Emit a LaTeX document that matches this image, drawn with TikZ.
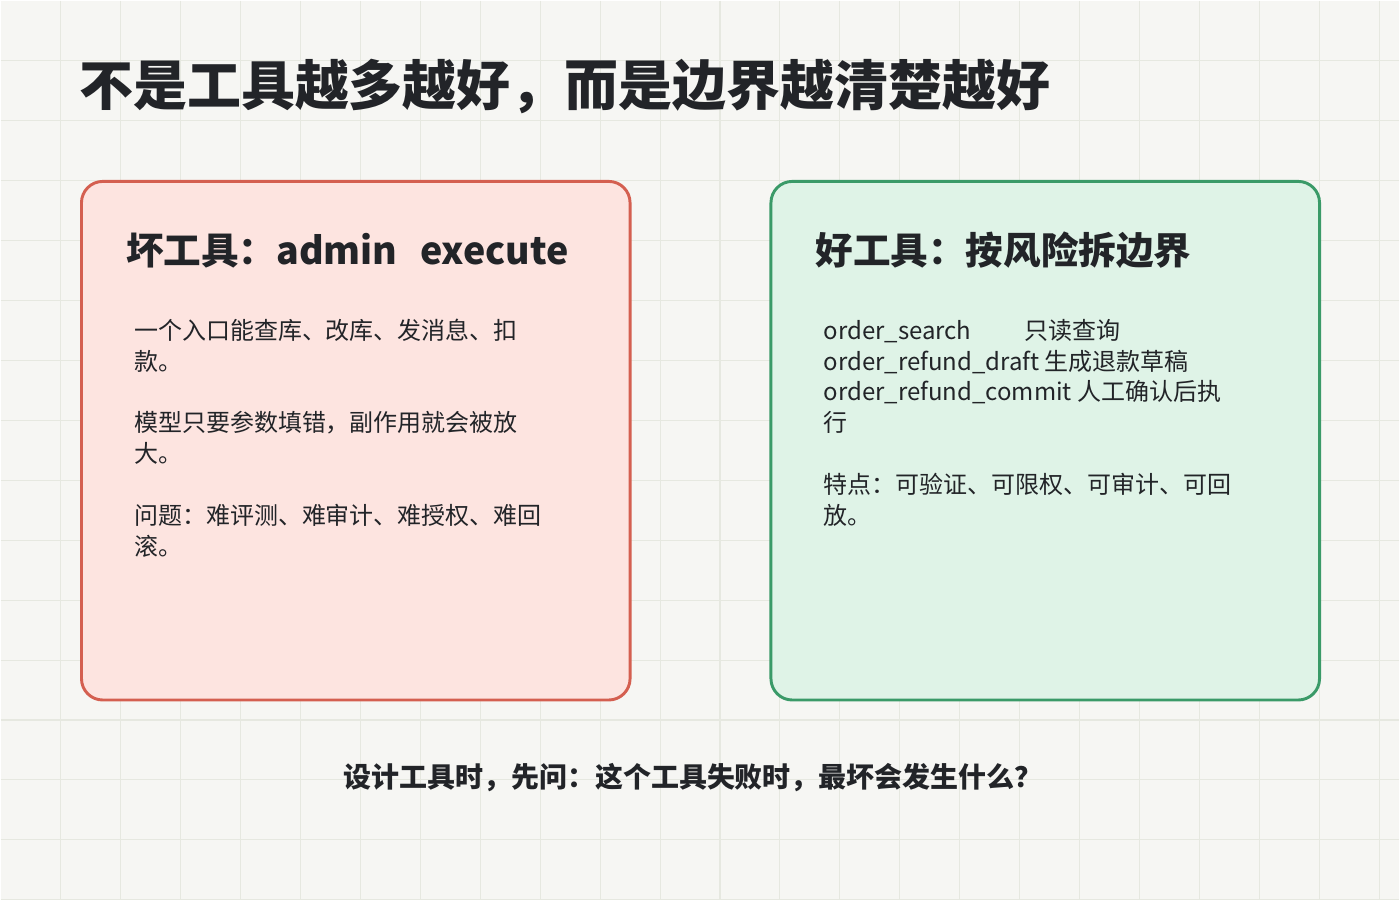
\documentclass[tikz,border=0pt]{standalone}
\usepackage{fontspec}
\setmainfont{Noto Sans CJK SC}
\usetikzlibrary{positioning}
\definecolor{bgc}{HTML}{F6F6F3}
\definecolor{gridc}{HTML}{E6E8E0}
\definecolor{ink}{HTML}{222428}
\definecolor{badfill}{HTML}{FDE4E0}
\definecolor{baddraw}{HTML}{D45F50}
\definecolor{goodfill}{HTML}{DFF3E7}
\definecolor{gooddraw}{HTML}{3A9A68}
\tikzset{
  card/.style={draw=#1, line width=2.2pt, rounded corners=16pt},
  cardtitle/.style={anchor=west, font=\fontsize{28.2}{33}\selectfont\bfseries, text=ink},
  cardbody/.style={anchor=north west, align=left, font=\fontsize{18}{23.2}\selectfont, text=ink}
}
\begin{document}
\begin{tikzpicture}[x=0.75pt,y=-0.75pt]
  \fill[bgc] (0,0) rectangle (1400,900);
  \foreach \gx in {60,120,...,1380} \draw[gridc, line width=0.8pt] (\gx,0) -- (\gx,900);
  \foreach \gy in {60,120,...,900} \draw[gridc, line width=0.8pt] (0,\gy) -- (1400,\gy);
  \useasboundingbox (0,0) rectangle (1400,900);

  \node[anchor=west, font=\fontsize{40.5}{48}\selectfont\bfseries, text=ink] (title) at (74,86) {不是工具越多越好，而是边界越清楚越好};

  % left card
  \draw[card=baddraw, fill=badfill] (81,181) rectangle (630,700);
  \node[cardtitle] (badtitle) at (121,250) {坏工具：admin\hspace{0.6em}execute};
  \node[cardbody] (badtext) at (129,314) {一个入口能查库、改库、发消息、扣\\款。\\[23pt]模型只要参数填错，副作用就会被放\\大。\\[23pt]问题：难评测、难审计、难授权、难回\\滚。};

  % right card
  \draw[card=gooddraw, fill=goodfill] (771,181) rectangle (1320,700);
  \node[cardtitle] (goodtitle) at (811,250) {好工具：按风险拆边界};
  \node[cardbody] (goodtext) at (819,314) {order\_search\hspace{2.2em}只读查询\\order\_refund\_draft 生成退款草稿\\order\_refund\_commit 人工确认后执\\行\\[23pt]特点：可验证、可限权、可审计、可回\\放。};

  \node[font=\fontsize{21}{25}\selectfont\bfseries, text=ink] (footer) at (693,778) {设计工具时，先问：这个工具失败时，最坏会发生什么？};
\end{tikzpicture}
\end{document}
